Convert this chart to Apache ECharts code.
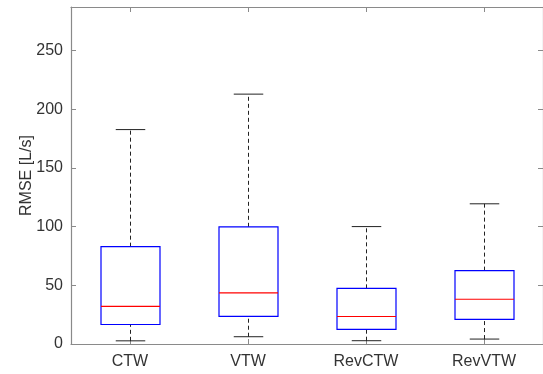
<!DOCTYPE html>
<html>
<head>
<meta charset="utf-8">
<script src="https://cdn.jsdelivr.net/npm/echarts@6/dist/echarts.min.js"></script>
<style>
  html, body { margin: 0; padding: 0; background: #fff; }
  #chart { width: 543px; height: 374px; }
</style>
</head>
<body>
<div id="chart"></div>
<script>
// Box-plot statistics of the RMSE per method [L/s]
const categories = ['CTW', 'VTW', 'RevCTW', 'RevVTW'];
const lowerWhisker = [2.7, 6.2, 2.8, 4.2];
const quartile1 = [16.6, 23.6, 12.5, 21.0];
const medians = [32.0, 43.6, 23.4, 38.1];
const quartile3 = [82.9, 99.8, 47.4, 62.5];
const upperWhisker = [182.6, 212.8, 100.0, 119.4];
const yTicks = [0, 50, 100, 150, 200, 250];
const yMax = 287;

const FONT = 'Liberation Sans, Arial, Helvetica, sans-serif';
const AXIS_COLOR = '#8a8a8a';
const TEXT_COLOR = '#333333';

const boxData = categories.map((c, i) => [
  i, lowerWhisker[i], quartile1[i], medians[i], quartile3[i], upperWhisker[i]
]);

function renderBox(params, api) {
  const x = api.value(0);
  const band = api.size([1, 0])[0];
  const half = band * 0.25;      // box half width
  const capHalf = band * 0.125;  // whisker cap half width
  const pLw = api.coord([x, api.value(1)]);
  const pQ1 = api.coord([x, api.value(2)]);
  const pMed = api.coord([x, api.value(3)]);
  const pQ3 = api.coord([x, api.value(4)]);
  const pUw = api.coord([x, api.value(5)]);
  const cx = Math.round(pMed[0]) + 0.5;
  const dashStyle = { stroke: '#222', lineWidth: 1, lineDash: [4, 3] };
  const capStyle = { stroke: '#222', lineWidth: 1 };
  return {
    type: 'group',
    children: [
      { type: 'line', shape: { x1: cx, y1: pQ3[1], x2: cx, y2: pUw[1] }, style: dashStyle },
      { type: 'line', shape: { x1: cx, y1: pLw[1], x2: cx, y2: pQ1[1] }, style: dashStyle },
      { type: 'line', shape: { x1: cx - capHalf, y1: pUw[1], x2: cx + capHalf, y2: pUw[1] }, style: capStyle },
      { type: 'line', shape: { x1: cx - capHalf, y1: pLw[1], x2: cx + capHalf, y2: pLw[1] }, style: capStyle },
      {
        type: 'rect',
        shape: { x: cx - half, y: pQ3[1], width: half * 2, height: pQ1[1] - pQ3[1] },
        style: { fill: 'none', stroke: '#0000ff', lineWidth: 1.2 }
      },
      { type: 'line', shape: { x1: cx - half, y1: pMed[1], x2: cx + half, y2: pMed[1] }, style: { stroke: '#ff0000', lineWidth: 1.2 } }
    ]
  };
}

const axisLineStyle = { show: true, onZero: false, lineStyle: { color: AXIS_COLOR, width: 1.2 } };
const yLabelFormatter = v => (yTicks.indexOf(v) >= 0 ? String(v) : '');

const chart = echarts.init(document.getElementById('chart'), null, { renderer: 'canvas' });
chart.setOption({
  animation: false,
  backgroundColor: '#ffffff',
  grid: { left: 71, right: -4, top: 7, bottom: 30 },
  xAxis: [
    {
      type: 'category',
      data: categories,
      position: 'bottom',
      axisLine: axisLineStyle,
      axisTick: { show: true, inside: true, length: 5, alignWithLabel: true, lineStyle: { color: AXIS_COLOR } },
      axisLabel: { color: TEXT_COLOR, fontSize: 16, fontFamily: FONT, margin: 10 },
      splitLine: { show: false }
    },
    {
      type: 'category',
      data: categories,
      position: 'top',
      axisLine: axisLineStyle,
      axisTick: { show: true, inside: true, length: 5, alignWithLabel: true, lineStyle: { color: AXIS_COLOR } },
      axisLabel: { show: false },
      splitLine: { show: false }
    }
  ],
  yAxis: [
    {
      type: 'value',
      min: 0,
      max: yMax,
      interval: 50,
      position: 'left',
      name: 'RMSE [L/s]',
      nameLocation: 'middle',
      nameRotate: 90,
      nameGap: 36,
      nameMoveOverlap: false,
      nameTextStyle: { color: TEXT_COLOR, fontSize: 16, fontFamily: FONT },
      axisLine: axisLineStyle,
      axisTick: { show: true, inside: true, length: 5, lineStyle: { color: AXIS_COLOR } },
      axisLabel: { color: TEXT_COLOR, fontSize: 16, fontFamily: FONT, margin: 8, formatter: yLabelFormatter },
      splitLine: { show: false }
    },
    {
      type: 'value',
      min: 0,
      max: yMax,
      interval: 50,
      position: 'right',
      axisLine: axisLineStyle,
      axisTick: { show: true, inside: true, length: 5, lineStyle: { color: AXIS_COLOR } },
      axisLabel: { show: false },
      splitLine: { show: false }
    }
  ],
  series: [
    {
      type: 'custom',
      xAxisIndex: 0,
      yAxisIndex: 0,
      renderItem: renderBox,
      encode: { x: 0, y: [1, 2, 3, 4, 5] },
      data: boxData,
      clip: false
    }
  ]
});
</script>
</body>
</html>
